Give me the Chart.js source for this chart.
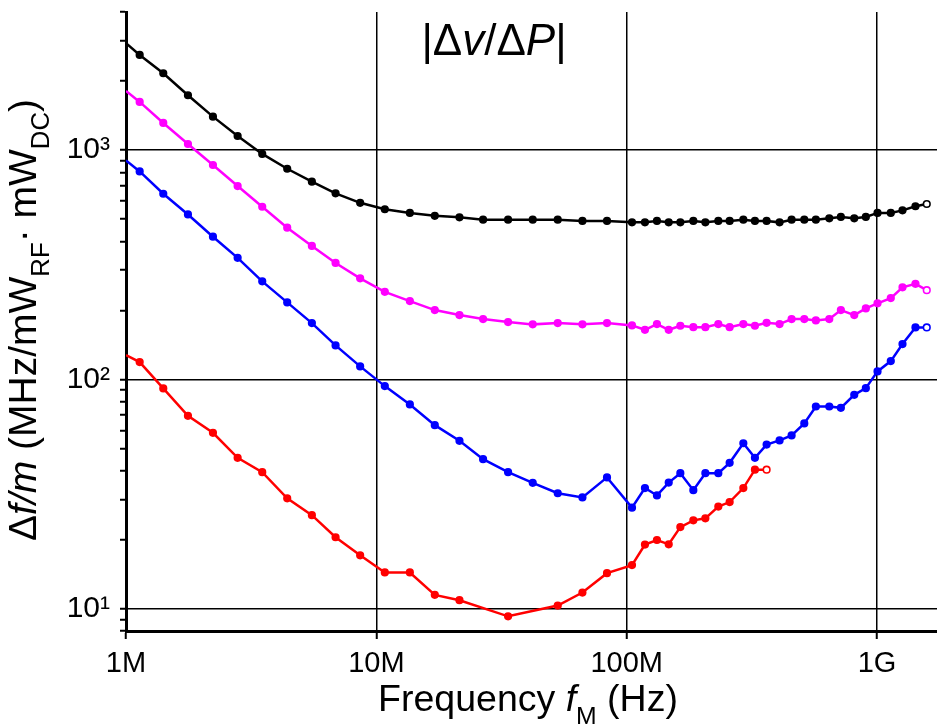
<!DOCTYPE html>
<html>
<head>
<meta charset="utf-8">
<script src="https://cdn.jsdelivr.net/npm/chart.js@4.4.1/dist/chart.umd.min.js"></script>
<style>
html,body{margin:0;padding:0;background:#fff;}
#wrap{width:937px;height:725px;}
</style>
</head>
<body>
<div id="wrap"><canvas id="c" width="937" height="725"></canvas></div>
<script>
// Modulation frequency (MHz)
const freqMHz = [1.0, 1.134, 1.409, 1.768, 2.225, 2.792, 3.501, 4.405, 5.527, 6.873, 8.616,
  10.81, 13.61, 17.12, 21.48, 26.69, 33.59, 42.14, 53.04, 66.56, 83.44,
  105.0, 118.3, 132.1, 147.2, 163.8, 184.6, 206.2, 232.3, 257.8, 292.4, 325.3, 362.2,
  408.1, 455.8, 512.2, 569.8, 644.6, 717.1, 811.0, 902.2, 1004.6, 1135, 1264, 1424, 1580];

const blackVals = [2925, 2600, 2163, 1734, 1399, 1152, 962, 829, 728, 648, 589,
  552, 532, 517, 509, 497, 497, 497, 497, 491, 491,
  484, 484, 491, 484, 484, 491, 484, 491, 491, 497, 491, 491,
  484, 497, 497, 497, 504, 511, 504, 511, 532, 532, 546, 569, 582];

const magentaVals = [1811, 1622, 1313, 1063, 861, 697, 566, 459, 382, 322, 276,
  241, 219.6, 200.6, 190.8, 183.3, 177.8, 173.8, 176, 173.8, 176,
  172, 164.6, 174.3, 164.6, 171.4, 169, 169, 174.3, 169, 174.3, 171.4, 176.6,
  174.3, 183.3, 183.3, 180.9, 183.3, 200.6, 190.8, 204, 214.7, 226.3, 252, 261, 245];

const blueVals = [902, 807, 645, 524, 419, 339, 267.7, 216.7, 176, 140.7, 114,
  93.5, 77.8, 63.2, 54, 44.9, 39.4, 35.4, 31.9, 30.6, 37.4,
  27.6, 33.6, 31.2, 35.5, 39.0, 32.9, 39.0, 39.0, 43.3, 52.7, 45.5, 52.0,
  54.2, 57.0, 64.3, 76.2, 76.2, 75.2, 85.7, 91.6, 108.4, 120.2, 142.6, 168.6, 168.6];

const redVals = [127.6, 119, 91.4, 69.4, 58.5, 45.5, 39.4, 30.3, 25.6, 20.5, 17.1,
  14.4, 14.4, 11.5, 10.9, null, 9.27, null, 10.33, 11.77, 14.3,
  15.5, 19.05, 19.95, 19.1, 22.7, 24.3, 24.8, 27.9, 29.2, 33.6, 40.4, 40.4];

const xTickValues = [1e6, 1e7, 1e8, 1e9];
const xTickLabels = ['1M', '10M', '100M', '1G'];
const yTickValues = [8, 9, 10, 20, 30, 40, 50, 60, 70, 80, 90, 100, 200, 300, 400, 500, 600, 700, 800, 900, 1000, 2000, 3000, 4000];
const yMajorLabels = {10: '10\u00B9', 100: '10\u00B2', 1000: '10\u00B3'};

const FONT = '"Liberation Sans", Arial, Helvetica, sans-serif';

function series(vals) {
  const pts = [];
  vals.forEach((v, i) => { if (v !== null && v !== undefined) pts.push({x: freqMHz[i] * 1e6, y: v}); });
  return pts;
}

function makeDataset(label, vals, color) {
  const data = series(vals);
  const last = data.length - 1;
  return {
    label, data,
    borderColor: color,
    backgroundColor: color,
    borderWidth: 2.5,
    pointRadius: ctx => ctx.dataIndex === 0 ? 0 : 3.3,
    pointBorderWidth: 1.6,
    pointBorderColor: color,
    pointBackgroundColor: ctx => ctx.dataIndex === last ? '#ffffff' : color,
    tension: 0,
    fill: false
  };
}

function drawRuns(ctx, runs, size, align) {
  const parts = runs.map(r => {
    const s = (r.sub || r.sup) ? size * 0.66 : size;
    const f = (r.it ? 'italic ' : '') + s + 'px ' + FONT;
    ctx.font = f;
    return {t: r.t, f, w: ctx.measureText(r.t).width, dy: r.sub ? size * 0.34 : (r.sup ? -size * 0.42 : 0)};
  });
  const total = parts.reduce((a, p) => a + p.w, 0);
  let x = align === 'center' ? -total / 2 : 0;
  ctx.textBaseline = 'alphabetic';
  ctx.textAlign = 'left';
  parts.forEach(p => {
    ctx.font = p.f;
    ctx.fillText(p.t, x, p.dy);
    x += p.w;
  });
}

const textPlugin = {
  id: 'texts',
  afterDraw(chart) {
    const ctx = chart.ctx;
    ctx.save();
    ctx.fillStyle = '#000';
    // panel title
    ctx.save();
    ctx.translate(494, 55);
    drawRuns(ctx, [{t: '|\u0394'}, {t: 'v', it: true}, {t: '/\u0394'}, {t: 'P', it: true}, {t: '|'}], 44, 'center');
    ctx.restore();
    // x axis title
    ctx.save();
    ctx.translate(528, 711);
    drawRuns(ctx, [{t: 'Frequency '}, {t: 'f', it: true}, {t: 'M', sub: true}, {t: ' (Hz)'}], 37.5, 'center');
    ctx.restore();
    // y axis title
    ctx.save();
    ctx.translate(36, 320);
    ctx.rotate(-Math.PI / 2);
    drawRuns(ctx, [{t: '\u0394'}, {t: 'f/m', it: true}, {t: ' (MHz/mW'}, {t: 'RF', sub: true}, {t: '\u00B7 mW'}, {t: 'DC', sub: true}, {t: ')'}], 39, 'center');
    ctx.restore();
    ctx.restore();
  }
};

new Chart(document.getElementById('c'), {
  type: 'line',
  data: {
    datasets: [
      makeDataset('black', blackVals, '#000000'),
      makeDataset('magenta', magentaVals, '#ff00ff'),
      makeDataset('blue', blueVals, '#0000ff'),
      makeDataset('red', redVals, '#ff0000')
    ]
  },
  options: {
    responsive: false,
    devicePixelRatio: 1,
    animation: false,
    layout: {autoPadding: false, padding: {top: 12, left: 0, right: 0, bottom: 0}},
    plugins: {legend: {display: false}, tooltip: {enabled: false}, title: {display: false}},
    scales: {
      x: {
        type: 'logarithmic',
        min: 1e6,
        max: 1.736e9,
        afterBuildTicks: s => { s.ticks = xTickValues.map(v => ({value: v})); },
        afterFit: s => { s.height = 94; s.paddingLeft = 0; s.paddingRight = 0; },
        ticks: {
          autoSkip: false,
          maxRotation: 0,
          padding: 8,
          color: '#000',
          font: {family: FONT, size: 29},
          callback: v => { const i = xTickValues.indexOf(v); return i >= 0 ? xTickLabels[i] : ''; }
        },
        grid: {color: '#000', lineWidth: 1.5, drawTicks: true, tickLength: 8, tickColor: '#000', tickWidth: 2},
        border: {display: true, color: '#000', width: 3}
      },
      y: {
        type: 'logarithmic',
        min: 8,
        max: 4000,
        afterBuildTicks: s => { s.ticks = yTickValues.map(v => ({value: v})); },
        afterFit: s => { s.width = 126; s.paddingTop = 0; s.paddingBottom = 0; },
        ticks: {
          autoSkip: false,
          padding: 10,
          color: '#000',
          font: {family: FONT, size: 30},
          callback: v => yMajorLabels[v] || ''
        },
        grid: {
          color: ctx => (ctx.tick && yMajorLabels[ctx.tick.value]) ? '#000' : 'rgba(0,0,0,0)',
          lineWidth: 1.5,
          drawTicks: true,
          tickLength: 6,
          tickColor: '#000',
          tickWidth: 2
        },
        border: {display: true, color: '#000', width: 3}
      }
    }
  },
  plugins: [textPlugin]
});
</script>
</body>
</html>
